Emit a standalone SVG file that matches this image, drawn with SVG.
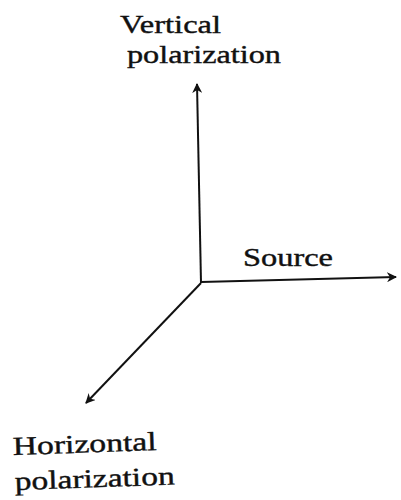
<svg xmlns="http://www.w3.org/2000/svg" width="401" height="500" viewBox="0 0 401 500">
<defs>
<marker id="ah" viewBox="0 0 10 10" refX="9" refY="5" markerWidth="10" markerHeight="10" markerUnits="userSpaceOnUse" orient="auto">
<path d="M0,0 L10,5 L0,10 L3,5 Z" fill="#111"/>
</marker>
</defs>
<style>
.ax{stroke:#111;stroke-width:2;fill:none;marker-end:url(#ah)}
.t{font-family:"Liberation Serif",serif;font-size:26px;fill:#111;stroke:#111;stroke-width:0.4}
</style>
<rect width="401" height="500" fill="#fff"/>
<g id="connectors">
<line class="ax" x1="201" y1="283" x2="197" y2="84"/>
<line class="ax" x1="201" y1="282" x2="396" y2="277"/>
<line class="ax" x1="201" y1="283" x2="86" y2="403"/>
</g>
<g id="vertical-label">
<text class="t" x="120" y="33" textLength="101" lengthAdjust="spacingAndGlyphs">Vertical</text>
<text class="t" x="127" y="63" textLength="154" lengthAdjust="spacingAndGlyphs">polarization</text>
</g>
<g id="source-label">
<text class="t" x="243" y="266" textLength="90" lengthAdjust="spacingAndGlyphs">Source</text>
</g>
<g id="horizontal-label">
<text class="t" x="13" y="455" textLength="144" lengthAdjust="spacingAndGlyphs" transform="rotate(-2 13 455)">Horizontal</text>
<text class="t" x="15" y="490" textLength="160" lengthAdjust="spacingAndGlyphs" transform="rotate(-2 15 490)">polarization</text>
</g>
</svg>
